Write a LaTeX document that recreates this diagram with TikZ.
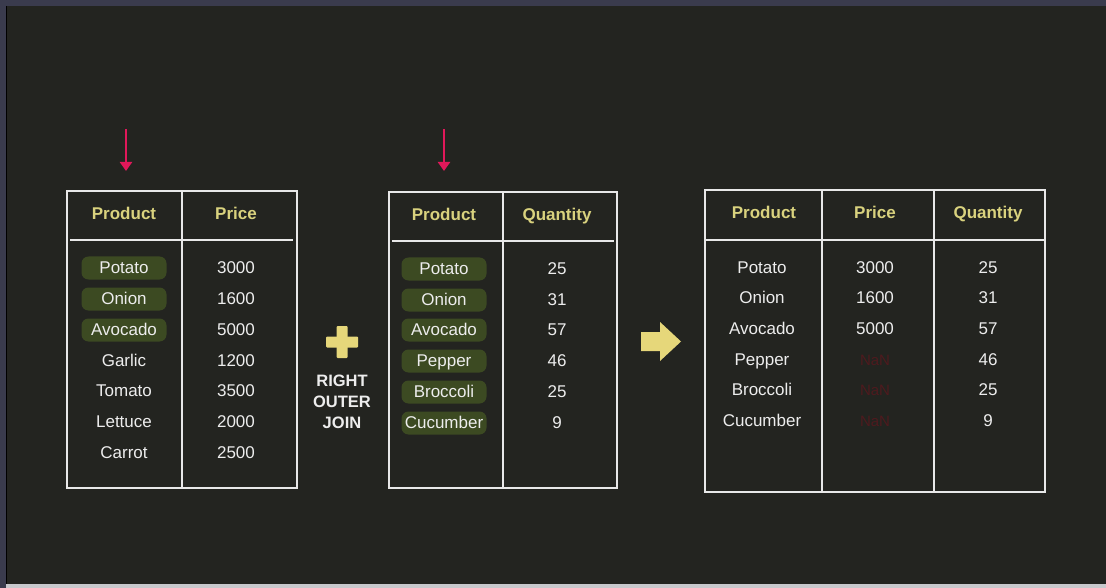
\documentclass[tikz,border=0pt]{standalone}
\usepackage{fontspec}
\usetikzlibrary{arrows.meta}
\setmainfont{Liberation Sans}
\definecolor{bg}{HTML}{232420}
\definecolor{frameblue}{HTML}{3A3B4D}
\definecolor{barlight}{HTML}{C8C8CC}
\definecolor{hdr}{HTML}{D9D27E}
\definecolor{pillc}{HTML}{3C4A22}
\definecolor{redarrow}{HTML}{E0185A}
\definecolor{nanc}{HTML}{4E1A1E}
\definecolor{linec}{HTML}{E8E8E8}
\definecolor{txt}{HTML}{EDEDED}
\definecolor{yel}{HTML}{E6D77A}
\begin{document}
\begin{tikzpicture}[x=1pt,y=-1pt,
  tbl/.style={draw=linec,line width=1.6pt},
  hline/.style={draw=linec,line width=1.6pt},
  hd/.style={text=hdr,font=\bfseries\fontsize{17}{18}\selectfont,inner sep=0pt,text height=12pt,text depth=0.5pt},
  cell/.style={text=txt,font=\fontsize{17}{18}\selectfont,inner sep=0pt,text height=12pt,text depth=0.5pt},
  pill/.style={fill=pillc,rounded corners=7pt,minimum width=85pt,minimum height=23pt,inner sep=0pt},
  nan/.style={text=nanc,font=\fontsize{15}{16}\selectfont,inner sep=0pt,text height=11pt,text depth=0pt},
  redarr/.style={draw=redarrow,line width=2.4pt,-{Triangle[length=9pt,width=12pt]}},
  joint/.style={text=txt,font=\bfseries\fontsize{16.5}{21}\selectfont,align=center,inner sep=0pt}
]
\useasboundingbox (0,0) rectangle (1106,588);
\fill[bg] (0,0) rectangle (1106,588);
\fill[frameblue] (0,0) rectangle (1106,6);
\fill[frameblue] (0,0) rectangle (6,588);
\fill[barlight] (6,584) rectangle (1106,588);
\draw[black,line width=1pt] (6.5,6) -- (6.5,584);

% ---------- Table 1 ----------
\draw[tbl] (67,191) rectangle (297,488);
\draw[hline] (182,191) -- (182,488);
\draw[hline] (70,240) -- (293,240);
\node[hd] (t1h1) at (124,214) {Product};
\node[hd] (t1h2) at (236,214) {Price};
\foreach \y/\p/\v/\pl [count=\i] in {268/Potato/3000/1,299/Onion/1600/1,330/Avocado/5000/1,361/Garlic/1200/0,391/Tomato/3500/0,422/Lettuce/2000/0,453/Carrot/2500/0}{
  \ifnum\pl=1 \node[pill] (t1pill\i) at (124,\y) {};\fi
  \node[cell] (t1p\i) at (124,\y) {\p};
  \node[cell] (t1v\i) at (236,\y) {\v};
}
\coordinate (a1s) at (126,129);
\coordinate (a1e) at (126,171);
\draw[redarr] (a1s) -- (a1e);

% ---------- Table 2 ----------
\draw[tbl] (389,192) rectangle (617,488);
\draw[hline] (503,192) -- (503,488);
\draw[hline] (392,241) -- (614,241);
\node[hd] (t2h1) at (444,215) {Product};
\node[hd] (t2h2) at (557,215) {Quantity};
\foreach \y/\p/\v [count=\i] in {269/Potato/25,300/Onion/31,330/Avocado/57,361/Pepper/46,392/Broccoli/25,423/Cucumber/9}{
  \node[pill] (t2pill\i) at (444,\y) {};
  \node[cell] (t2p\i) at (444,\y) {\p};
  \node[cell] (t2v\i) at (557,\y) {\v};
}
\coordinate (a2s) at (444,129);
\coordinate (a2e) at (444,171);
\draw[redarr] (a2s) -- (a2e);

% ---------- plus + label ----------
\fill[yel,rounded corners=1pt] (336.5,326) rectangle (347.5,358);
\fill[yel,rounded corners=1pt] (326,336.5) rectangle (358,347.5);
\node[joint] (join) at (342,402) {RIGHT\\OUTER\\JOIN};

% ---------- big arrow ----------
\fill[yel] (641,332) -- (660,332) -- (660,322) -- (681,341.5) -- (660,361) -- (660,351) -- (641,351) -- cycle;

% ---------- Table 3 ----------
\draw[tbl] (705,190) rectangle (1045,492);
\draw[hline] (822,190) -- (822,492);
\draw[hline] (934,190) -- (934,492);
\draw[hline] (705,240) -- (1045,240);
\node[hd] (t3h1) at (764,213) {Product};
\node[hd] (t3h2) at (875,213) {Price};
\node[hd] (t3h3) at (988,213) {Quantity};
\foreach \y/\p/\pr/\v [count=\i] in {268/Potato/3000/25,298/Onion/1600/31,329/Avocado/5000/57,360/Pepper/N/46,390/Broccoli/N/25,421/Cucumber/N/9}{
  \node[cell] (t3p\i) at (762,\y) {\p};
  \if N\pr
    \node[nan] (t3v\i) at (875,\y) {NaN};
  \else
    \node[cell] (t3v\i) at (875,\y) {\pr};
  \fi
  \node[cell] (t3q\i) at (988,\y) {\v};
}
\end{tikzpicture}
\end{document}
